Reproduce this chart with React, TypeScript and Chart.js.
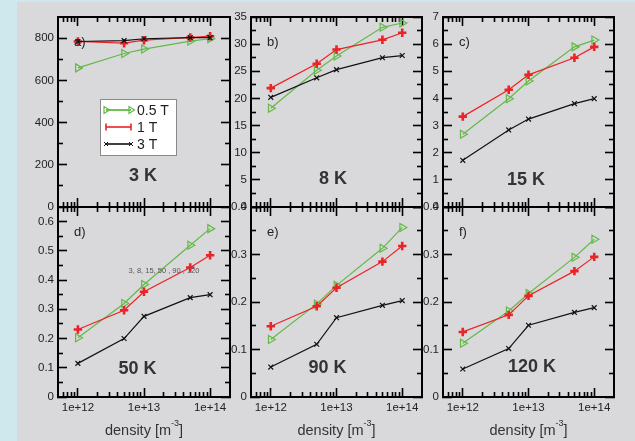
import React, { useEffect, useRef } from 'react';
import { Chart, registerables } from 'chart.js';

Chart.register(...registerables);

// ---------------- data ----------------
const densities = [1e12, 5e12, 1e13, 5e13, 1e14];
const fieldNames = ['0.5 T', '1 T', '3 T'];
const panelLetters = ['a)', 'b)', 'c)', 'd)', 'e)', 'f)'];
const temperatureLabels = ['3 K', '8 K', '15 K', '50 K', '90 K', '120 K'];

const k3_05T = [659, 727, 748, 786, 797];
const k3_1T = [784, 776, 790, 803, 809];
const k3_3T = [784, 788, 797, 802, 802];

const k8_05T = [18.2, 25.2, 27.8, 33.1, 33.9];
const k8_1T = [21.9, 26.4, 29.0, 30.8, 32.1];
const k8_3T = [20.2, 23.8, 25.3, 27.5, 27.9];

const k15_05T = [2.68, 3.99, 4.64, 5.9, 6.15];
const k15_1T = [3.33, 4.32, 4.87, 5.5, 5.9];
const k15_3T = [1.72, 2.84, 3.24, 3.81, 3.99];

const k50_05T = [0.203, 0.32, 0.385, 0.519, 0.576];
const k50_1T = [0.231, 0.297, 0.36, 0.443, 0.485];
const k50_3T = [0.115, 0.2, 0.276, 0.34, 0.35];

const k90_05T = [0.121, 0.196, 0.235, 0.313, 0.357];
const k90_1T = [0.149, 0.191, 0.23, 0.285, 0.318];
const k90_3T = [0.063, 0.111, 0.167, 0.193, 0.203];

const k120_05T = [0.113, 0.181, 0.218, 0.294, 0.332];
const k120_1T = [0.137, 0.173, 0.213, 0.265, 0.295];
const k120_3T = [0.059, 0.102, 0.151, 0.178, 0.188];

const xMin = 5e11;
const xMax = 2e14;
const xTickValues = [1e12, 1e13, 1e14];
const xTickLabels = ['1e+12', '1e+13', '1e+14'];
const xMinorMantissas = [2, 3, 4, 5, 6, 7, 8, 9];
const xMinorDecades = [1e11, 1e12, 1e13];

const yTicks3K = [0, 200, 400, 600, 800];
const yTicks8K = [0, 5, 10, 15, 20, 25, 30, 35];
const yTicks15K = [0, 1, 2, 3, 4, 5, 6, 7];
const yTicks50K = [0, 0.1, 0.2, 0.3, 0.4, 0.5, 0.6];
const yTicks90K = [0, 0.1, 0.2, 0.3, 0.4];
const yTicks120K = [0, 0.1, 0.2, 0.3, 0.4];
const yMaxima = [900, 35, 7, 0.65, 0.4, 0.4];
const yMinorSteps = [100, 2.5, 0.5, 0.05, 0.05, 0.05];

const xTitle = 'density [m';
const xTitleSup = '-3';
const xTitleEnd = ']';
const noteText = '3, 8, 15, 50 , 90 , 120';

// ---------------- layout / styles ----------------
const W = 635;
const H = 441;
const FONT = "'Liberation Sans', Arial, Helvetica, sans-serif";
const Y_LABEL_BAND = 40;
const X_LABEL_BAND = 24;

const areas = [
  { l: 58, t: 17, r: 230, b: 207 },
  { l: 251, t: 17, r: 422, b: 207 },
  { l: 443, t: 17, r: 614, b: 207 },
  { l: 58, t: 207, r: 230, b: 397 },
  { l: 251, t: 207, r: 422, b: 397 },
  { l: 443, t: 207, r: 614, b: 397 },
];
const tempLabelOffsets = [
  { dx: 85, dy: 31 },
  { dx: 82, dy: 28 },
  { dx: 83, dy: 27 },
  { dx: 79.5, dy: 28 },
  { dx: 76.5, dy: 29 },
  { dx: 89, dy: 30 },
];

const seriesStyles = [
  { color: '#62b946', pointStyle: 'triangle', rotation: 90, radius: 4.6, pbw: 1.2, bg: 'rgba(0,0,0,0)' },
  { color: '#ec2227', pointStyle: 'cross', rotation: 0, radius: 4.2, pbw: 2.6, bg: '#ec2227' },
  { color: '#111111', pointStyle: 'crossRot', rotation: 0, radius: 3.4, pbw: 1.2, bg: '#111111' },
];

const panelSeries = [
  [k3_05T, k3_1T, k3_3T],
  [k8_05T, k8_1T, k8_3T],
  [k15_05T, k15_1T, k15_3T],
  [k50_05T, k50_1T, k50_3T],
  [k90_05T, k90_1T, k90_3T],
  [k120_05T, k120_1T, k120_3T],
];
const panelYTicks = [yTicks3K, yTicks8K, yTicks15K, yTicks50K, yTicks90K, yTicks120K];

function xMinorTicks(): number[] {
  const out: number[] = [];
  xMinorDecades.forEach((d) =>
    xMinorMantissas.forEach((m) => {
      const v = m * d;
      if (v > xMin * 1.001 && v < xMax * 0.999) out.push(v);
    })
  );
  return out;
}

function yMinorTicks(max: number, step: number): number[] {
  const out: number[] = [];
  for (let k = 0; ; k++) {
    const v = (2 * k + 1) * step;
    if (v >= max - step * 0.01) break;
    out.push(v);
  }
  return out;
}

function fixFit(size: number, horizontal: boolean) {
  return (s: any) => {
    if (horizontal) s.height = size;
    else s.width = size;
    s.paddingLeft = s.paddingRight = s.paddingTop = s.paddingBottom = 0;
  };
}

function axis(opts: {
  axis: 'x' | 'y';
  position: string;
  type: string;
  min: number;
  max: number;
  ticks: number[];
  major: boolean;
  labels: boolean;
  band: number;
  labelFn?: (v: number) => string;
}) {
  const horizontal = opts.axis === 'x';
  return {
    axis: opts.axis,
    type: opts.type,
    position: opts.position,
    weight: opts.major ? 10 : 0,
    min: opts.min,
    max: opts.max,
    afterBuildTicks: (s: any) => {
      s.ticks = opts.ticks.map((v) => ({ value: v, major: opts.major }));
    },
    afterFit: fixFit(opts.band, horizontal),
    grid: {
      display: true,
      drawOnChartArea: false,
      drawTicks: true,
      tickLength: opts.major ? -9 : -5,
      tickWidth: 1.6,
      tickColor: '#000',
    },
    border: { display: opts.major, width: 2, color: '#000' },
    ticks: {
      display: opts.labels,
      autoSkip: false,
      maxRotation: 0,
      minRotation: 0,
      padding: 13,
      color: '#222',
      font: { family: FONT, size: 11.5 },
      callback: (v: any) => (opts.labelFn ? opts.labelFn(Number(v)) : String(v)),
    },
  };
}

function buildConfig(i: number): any {
  const a = areas[i];
  const bottomRow = i >= 3;
  const yTicks = panelYTicks[i];
  const yMax = yMaxima[i];
  const yMinor = yMinorTicks(yMax, yMinorSteps[i]);
  const xMinor = xMinorTicks();
  const xLabel = (v: number) => {
    const idx = xTickValues.findIndex((t) => Math.abs(t - v) / t < 1e-6);
    return idx >= 0 ? xTickLabels[idx] : '';
  };

  const datasets = panelSeries[i].map((vals, si) => {
    const st = seriesStyles[si];
    return {
      label: fieldNames[si],
      data: densities.map((d, k) => ({ x: d, y: vals[k] })),
      borderColor: st.color,
      backgroundColor: st.color,
      borderWidth: 1.2,
      tension: 0,
      pointStyle: st.pointStyle,
      pointRotation: st.rotation,
      pointRadius: st.radius,
      pointBorderWidth: st.pbw,
      pointBorderColor: st.color,
      pointBackgroundColor: st.bg,
      order: 3 - si,
      clip: 8,
    };
  });

  const overlay = {
    id: 'overlay' + i,
    afterDraw(chart: any) {
      const ctx = chart.ctx as CanvasRenderingContext2D;
      const ca = chart.chartArea;
      ctx.save();
      // panel letter
      ctx.fillStyle = '#222';
      ctx.font = `13px ${FONT}`;
      ctx.textAlign = 'left';
      ctx.textBaseline = 'middle';
      ctx.fillText(panelLetters[i], ca.left + 16, ca.top + 25);
      // temperature label
      const off = tempLabelOffsets[i];
      ctx.fillStyle = '#333';
      ctx.font = `bold 18px ${FONT}`;
      ctx.textAlign = 'center';
      ctx.fillText(temperatureLabels[i], ca.left + off.dx, ca.bottom - off.dy);
      // x-axis title
      if (bottomRow) {
        ctx.fillStyle = '#333';
        ctx.textAlign = 'left';
        ctx.font = `14.5px ${FONT}`;
        const w1 = ctx.measureText(xTitle).width;
        const w3 = ctx.measureText(xTitleEnd).width;
        ctx.font = `9px ${FONT}`;
        const w2 = ctx.measureText(xTitleSup).width;
        const cx = (ca.left + ca.right) / 2;
        let x = cx - (w1 + w2 + w3) / 2;
        const y = 431;
        ctx.font = `14.5px ${FONT}`;
        ctx.fillText(xTitle, x, y);
        x += w1;
        ctx.font = `9px ${FONT}`;
        ctx.fillText(xTitleSup, x, y - 7);
        x += w2;
        ctx.font = `14.5px ${FONT}`;
        ctx.fillText(xTitleEnd, x, y);
      }
      // small note in panel d
      if (i === 3) {
        ctx.fillStyle = '#555';
        ctx.font = `7.5px ${FONT}`;
        ctx.textAlign = 'center';
        ctx.fillText(noteText, 164, 271);
      }
      // legend in panel a
      if (i === 0) {
        const bx = 100, by = 99, bw = 76, bh = 56;
        ctx.fillStyle = '#ffffff';
        ctx.fillRect(bx, by, bw, bh);
        ctx.strokeStyle = '#8a8a8a';
        ctx.lineWidth = 1;
        ctx.strokeRect(bx + 0.5, by + 0.5, bw, bh);
        fieldNames.forEach((name, si) => {
          const st = seriesStyles[si];
          const ly = by + 11 + si * 17;
          const x1 = bx + 6, x2 = bx + 31;
          ctx.strokeStyle = st.color;
          ctx.lineWidth = si === 0 ? 1.8 : 1.6;
          ctx.beginPath();
          ctx.moveTo(x1, ly);
          ctx.lineTo(x2, ly);
          ctx.stroke();
          [x1, x2].forEach((px) => {
            ctx.beginPath();
            if (si === 0) {
              ctx.lineWidth = 1.2;
              ctx.moveTo(px + 3.5, ly);
              ctx.lineTo(px - 2, ly - 3.5);
              ctx.lineTo(px - 2, ly + 3.5);
              ctx.closePath();
            } else if (si === 1) {
              ctx.lineWidth = 1.6;
              ctx.moveTo(px, ly - 3.5);
              ctx.lineTo(px, ly + 3.5);
            } else {
              ctx.lineWidth = 1;
              ctx.moveTo(px - 2, ly - 2);
              ctx.lineTo(px + 2, ly + 2);
              ctx.moveTo(px - 2, ly + 2);
              ctx.lineTo(px + 2, ly - 2);
            }
            ctx.stroke();
          });
          ctx.fillStyle = '#222';
          ctx.font = `14px ${FONT}`;
          ctx.textAlign = 'left';
          ctx.textBaseline = 'middle';
          ctx.fillText(name, bx + 37, ly + 1);
        });
      }
      ctx.restore();
    },
  };

  return {
    type: 'line',
    data: { datasets },
    options: {
      animation: false,
      responsive: false,
      maintainAspectRatio: false,
      devicePixelRatio: 1,
      events: [],
      layout: {
        padding: {
          left: a.l - Y_LABEL_BAND,
          top: a.t,
          right: W - a.r,
          bottom: H - a.b - X_LABEL_BAND,
        },
      },
      plugins: { legend: { display: false }, tooltip: { enabled: false }, title: { display: false } },
      scales: {
        x: axis({ axis: 'x', position: 'bottom', type: 'logarithmic', min: xMin, max: xMax, ticks: xTickValues, major: true, labels: bottomRow, band: X_LABEL_BAND, labelFn: xLabel }),
        xm: axis({ axis: 'x', position: 'bottom', type: 'logarithmic', min: xMin, max: xMax, ticks: xMinor, major: false, labels: false, band: 0 }),
        xt: axis({ axis: 'x', position: 'top', type: 'logarithmic', min: xMin, max: xMax, ticks: xTickValues, major: true, labels: false, band: 0 }),
        xtm: axis({ axis: 'x', position: 'top', type: 'logarithmic', min: xMin, max: xMax, ticks: xMinor, major: false, labels: false, band: 0 }),
        y: axis({ axis: 'y', position: 'left', type: 'linear', min: 0, max: yMax, ticks: yTicks, major: true, labels: true, band: Y_LABEL_BAND }),
        ym: axis({ axis: 'y', position: 'left', type: 'linear', min: 0, max: yMax, ticks: yMinor, major: false, labels: false, band: 0 }),
        yr: axis({ axis: 'y', position: 'right', type: 'linear', min: 0, max: yMax, ticks: yTicks, major: true, labels: false, band: 0 }),
        yrm: axis({ axis: 'y', position: 'right', type: 'linear', min: 0, max: yMax, ticks: yMinor, major: false, labels: false, band: 0 }),
      },
    },
    plugins: [overlay],
  };
}

function Panel({ index }: { index: number }) {
  const ref = useRef<HTMLCanvasElement | null>(null);
  useEffect(() => {
    if (!ref.current) return;
    const chart = new Chart(ref.current, buildConfig(index));
    return () => chart.destroy();
  }, [index]);
  return (
    <canvas
      ref={ref}
      width={W}
      height={H}
      style={{ position: 'absolute', left: 0, top: 0, width: W, height: H }}
    />
  );
}

export default function App() {
  return (
    <div
      style={{
        position: 'fixed',
        left: 0,
        top: 0,
        width: W,
        height: H,
        background: '#cfe8ee',
        overflow: 'hidden',
      }}
    >
      <div style={{ position: 'absolute', left: 17, top: 2, right: 0, bottom: 0, background: '#d9d9db' }} />
      {[0, 1, 2, 3, 4, 5].map((i) => (
        <Panel key={i} index={i} />
      ))}
    </div>
  );
}
